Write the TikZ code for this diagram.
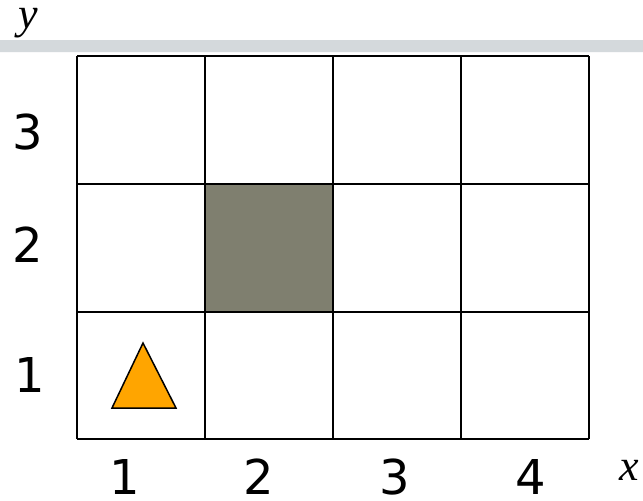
\documentclass[tikz,border=0pt]{standalone}
\usepackage{fontspec}
\setsansfont{DejaVu Sans}
\newfontfamily\axisfont{Liberation Serif}
\definecolor{bargray}{HTML}{D4D9DC}
\definecolor{wallgray}{HTML}{7F7F6F}
\definecolor{agentorange}{HTML}{FFA500}
\begin{document}
\begin{tikzpicture}[x=1pt,y=-1pt,
  numlab/.style={font=\sffamily\fontsize{48}{58}\selectfont, inner sep=0pt, anchor=center},
  axislab/.style={font=\axisfont\itshape\fontsize{44}{52}\selectfont, inner sep=0pt},
  gridline/.style={line width=2pt, black}]
\useasboundingbox (0,0) rectangle (643,501);
\fill[bargray] (0,40) rectangle (643,52);
\draw[white!85!bargray, line width=1pt] (0,52.5) -- (643,52.5);
% wall cell
\fill[wallgray] (205,184) rectangle (333,312);
% grid
\foreach \xx in {77,205,333,461,589} \draw[gridline] (\xx,56) -- (\xx,439);
\foreach \yy in {56,184,312,439} \draw[gridline] (77,\yy) -- (589,\yy);
% agent triangle
\coordinate (apex) at (143,343);
\coordinate (bl) at (112,408);
\coordinate (br) at (176,408);
\draw[fill=agentorange, line width=1.5pt, line join=miter] (apex) -- (bl) -- (br) -- cycle;
% row labels
\node[numlab] (r3) at (28,132) {3};
\node[numlab] (r2) at (28,245) {2};
\node[numlab] (r1) at (30,375) {1};
% column labels
\node[numlab] (c1) at (125,477) {1};
\node[numlab] (c2) at (259,477) {2};
\node[numlab] (c3) at (395,477) {3};
\node[numlab] (c4) at (531,477) {4};
% axis labels
\node[axislab] (ylab) at (28,23) {y};
\node[axislab] (xlab) at (629,470) {x};
\end{tikzpicture}
\end{document}
